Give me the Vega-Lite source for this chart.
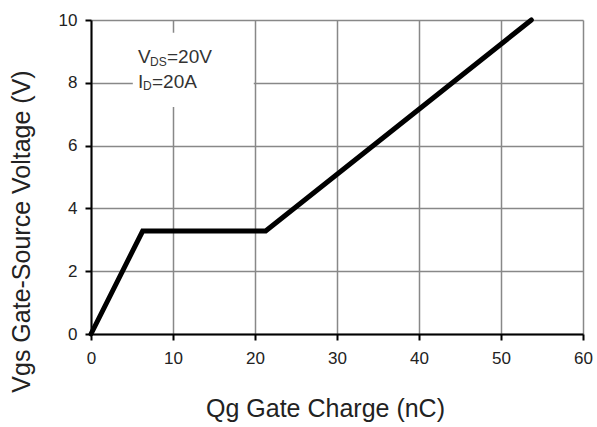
{
  "$schema": "https://vega.github.io/schema/vega-lite/v6.json",
  "width": 492,
  "height": 314,
  "autosize": {"type": "none"},
  "padding": {"left": 91, "top": 20, "right": 14, "bottom": 93},
  "background": "white",
  "config": {
    "view": {"stroke": null},
    "font": "Liberation Sans",
    "text": {"fontWeight": "normal"},
    "axis": {
      "grid": true,
      "labelFont": "Liberation Sans",
      "titleFont": "Liberation Sans",
      "labelFontSize": 17,
      "titleFontSize": 25,
      "titleFontWeight": "normal",
      "labelColor": "#222",
      "titleColor": "#222",
      "domainColor": "#000",
      "domainWidth": 2,
      "tickColor": "#000",
      "tickWidth": 2,
      "tickSize": 6,
      "gridColor": "#888",
      "gridWidth": 1.5,
      "gridOpacity": 1
    }
  },
  "datasets": {
    "curve": [
      {"qg": 0, "vgs": 0},
      {"qg": 6.3, "vgs": 3.28},
      {"qg": 21.3, "vgs": 3.28},
      {"qg": 53.7, "vgs": 10}
    ],
    "one": [{"k": 1}]
  },
  "layer": [
    {
      "data": {"name": "one"},
      "mark": {"type": "rect", "color": "white"},
      "encoding": {
        "x": {"datum": 5.1, "type": "quantitative", "scale": {"domain": [0, 60], "nice": false, "zero": false}},
        "x2": {"datum": 19.85},
        "y": {"datum": 7.23, "type": "quantitative", "scale": {"domain": [0, 10], "nice": false, "zero": false}},
        "y2": {"datum": 9.59}
      }
    },
    {
      "data": {"name": "curve"},
      "mark": {"type": "line", "color": "#000", "strokeWidth": 5, "strokeCap": "round", "strokeJoin": "miter"},
      "encoding": {
        "x": {
          "field": "qg", "type": "quantitative",
          "scale": {"domain": [0, 60], "nice": false, "zero": false},
          "axis": {"grid": true, "values": [0, 10, 20, 30, 40, 50, 60], "title": "Qg Gate Charge (nC)", "labelPadding": 10, "titlePadding": 30, "titleX": 234, "labelFlush": false}
        },
        "y": {
          "field": "vgs", "type": "quantitative",
          "scale": {"domain": [0, 10], "nice": false, "zero": false},
          "axis": {"grid": true, "values": [0, 2, 4, 6, 8, 10], "title": "Vgs Gate-Source Voltage (V)", "labelPadding": 8, "titlePadding": 24, "titleY": 211, "labelFlush": false}
        }
      }
    },
    {
      "data": {"name": "one"},
      "mark": {"type": "text", "text": "V", "align": "left", "baseline": "alphabetic", "fontSize": 19, "fontWeight": "normal", "color": "#333", "font": "Liberation Sans"},
      "encoding": {"x": {"datum": 5.73, "type": "quantitative"}, "y": {"datum": 8.63, "type": "quantitative"}}
    },
    {
      "data": {"name": "one"},
      "mark": {"type": "text", "text": "DS", "align": "left", "baseline": "alphabetic", "fontSize": 12, "fontWeight": "normal", "dx": 12, "dy": 3, "color": "#333", "font": "Liberation Sans"},
      "encoding": {"x": {"datum": 5.73, "type": "quantitative"}, "y": {"datum": 8.63, "type": "quantitative"}}
    },
    {
      "data": {"name": "one"},
      "mark": {"type": "text", "text": "=20V", "align": "left", "baseline": "alphabetic", "fontSize": 19, "fontWeight": "normal", "dx": 29, "color": "#333", "font": "Liberation Sans"},
      "encoding": {"x": {"datum": 5.73, "type": "quantitative"}, "y": {"datum": 8.63, "type": "quantitative"}}
    },
    {
      "data": {"name": "one"},
      "mark": {"type": "text", "text": "I", "align": "left", "baseline": "alphabetic", "fontSize": 19, "fontWeight": "normal", "color": "#333", "font": "Liberation Sans"},
      "encoding": {"x": {"datum": 5.73, "type": "quantitative"}, "y": {"datum": 7.83, "type": "quantitative"}}
    },
    {
      "data": {"name": "one"},
      "mark": {"type": "text", "text": "D", "align": "left", "baseline": "alphabetic", "fontSize": 12, "fontWeight": "normal", "dx": 5, "dy": 2, "color": "#333", "font": "Liberation Sans"},
      "encoding": {"x": {"datum": 5.73, "type": "quantitative"}, "y": {"datum": 7.83, "type": "quantitative"}}
    },
    {
      "data": {"name": "one"},
      "mark": {"type": "text", "text": "=20A", "align": "left", "baseline": "alphabetic", "fontSize": 19, "fontWeight": "normal", "dx": 14, "color": "#333", "font": "Liberation Sans"},
      "encoding": {"x": {"datum": 5.73, "type": "quantitative"}, "y": {"datum": 7.83, "type": "quantitative"}}
    }
  ]
}
